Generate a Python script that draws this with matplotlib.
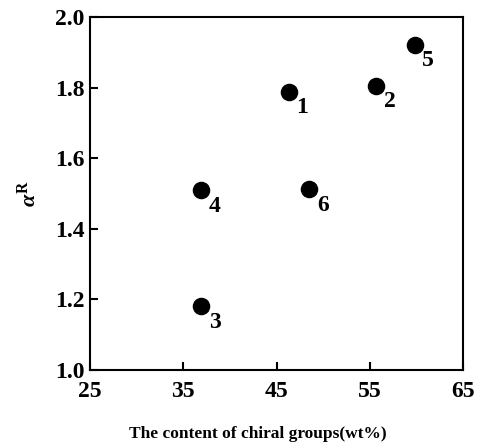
import matplotlib
matplotlib.use("Agg")
import matplotlib.pyplot as plt

# ==== DATA ====
content = [46.3, 55.7, 36.9, 36.9, 59.8, 48.5]   # wt% chiral groups
alpha_r = [1.788, 1.805, 1.181, 1.510, 1.922, 1.512]
labels = ["1", "2", "3", "4", "5", "6"]

plt.rcParams['font.family'] = ['Liberation Serif', 'DejaVu Serif']
plt.rcParams['font.weight'] = 'bold'
plt.rcParams['mathtext.fontset'] = 'custom'
plt.rcParams['mathtext.rm'] = 'Liberation Serif:bold'
plt.rcParams['mathtext.it'] = 'Liberation Serif:italic:bold'
plt.rcParams['mathtext.bf'] = 'Liberation Serif:bold'

fig = plt.figure(figsize=(4.79, 4.43), dpi=100)
ax = fig.add_axes([90 / 479, 1 - 370 / 443, 373 / 479, 353 / 443])

ax.scatter(content, alpha_r, s=135, color='black', zorder=3)
for x, y, lab in zip(content, alpha_r, labels):
    ax.annotate(lab, (x, y), xytext=(5.5, -4), textcoords='offset points',
                ha='left', va='top', fontsize=17, fontweight='bold')

ax.set_xlim(25, 65)
ax.set_ylim(1.0, 2.0)
ax.set_xticks([25, 35, 45, 55, 65])
ax.set_yticks([1.0, 1.2, 1.4, 1.6, 1.8, 2.0])
ax.set_yticklabels(["1.0", "1.2", "1.4", "1.6", "1.8", "2.0"])
ax.tick_params(direction='in', length=6, width=1.5, labelsize=17, pad=4)
ax.tick_params(axis='x', pad=8)

for sp in ax.spines.values():
    sp.set_linewidth(1.5)

ax.set_xlabel("The content of chiral groups(wt%)", fontsize=12.5, fontweight='bold')
ax.xaxis.set_label_coords(0.45, -0.16)
ax.set_ylabel(r"$\alpha^{\mathbf{R}}$", fontsize=16, labelpad=10)

fig.savefig("out.png", dpi=100)
